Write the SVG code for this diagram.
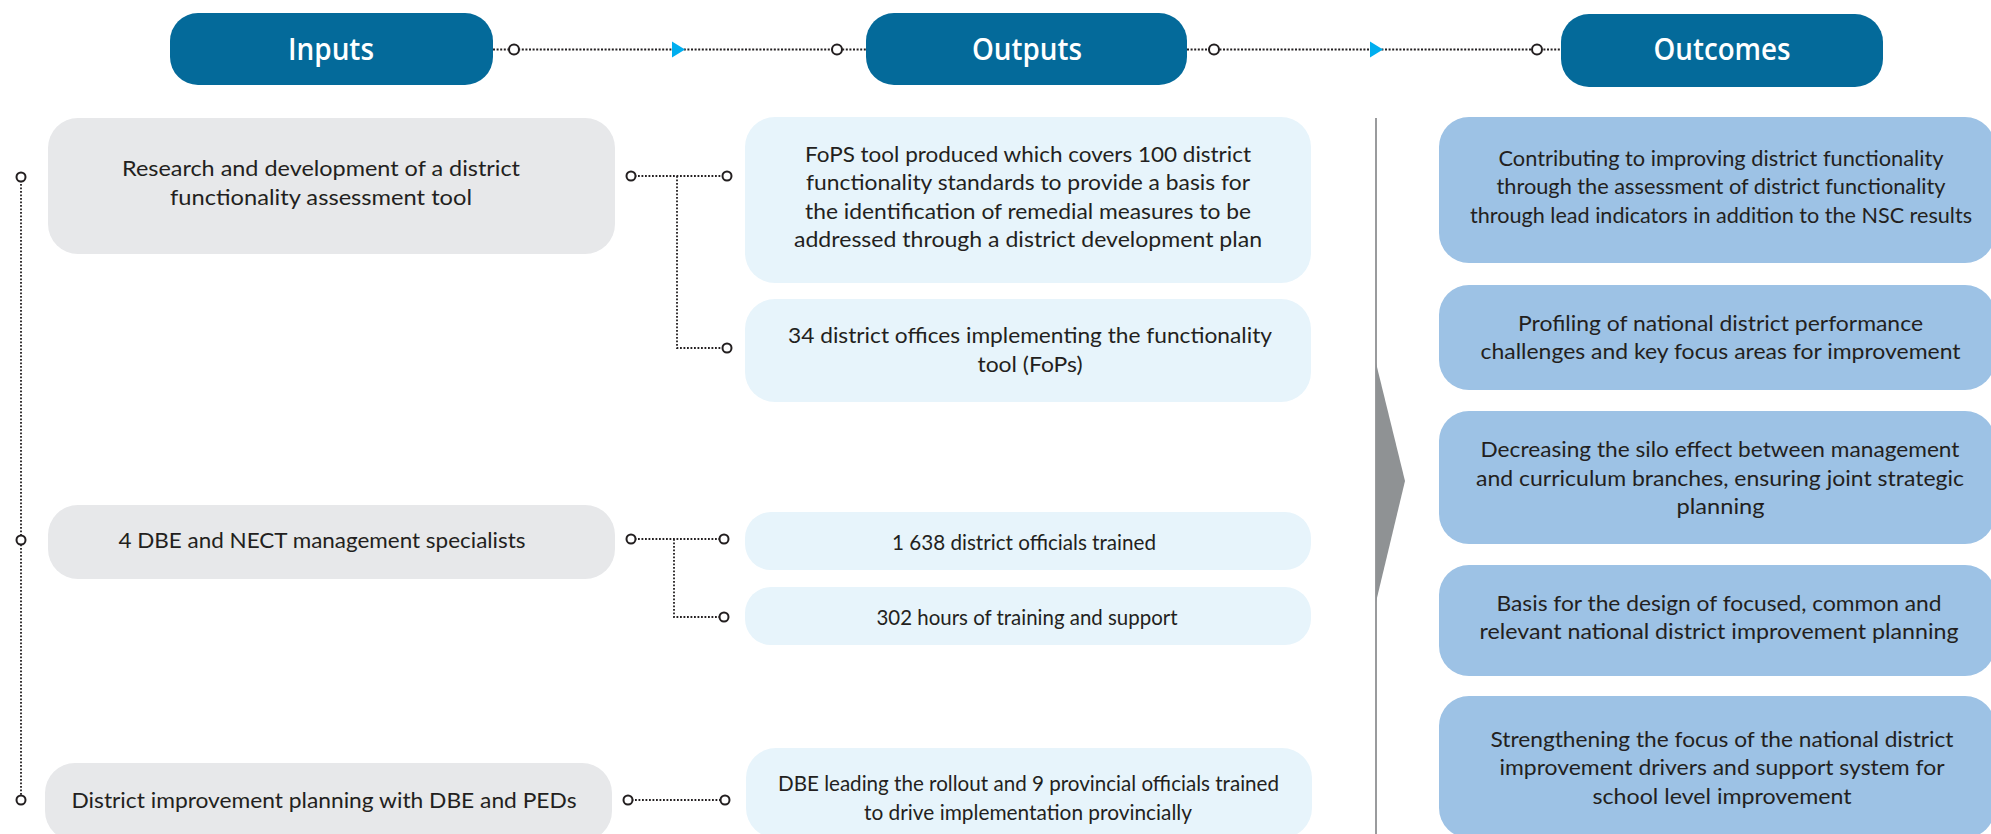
<svg xmlns="http://www.w3.org/2000/svg" width="1991" height="834" viewBox="0 0 1991 834">
  <style>
    .hdr { fill: #046A9A; }
    .in { fill: #E7E8EA; }
    .out { fill: #E7F4FB; }
    .oc { fill: #9DC2E5; }
    .ht { font-family: "Open Sans", "Noto Sans", sans-serif; font-weight: 600; font-size: 31px; fill: #FFFFFF; text-anchor: middle; }
    .t { font-family: Lato, "Noto Sans", sans-serif; font-size: 22px; fill: #231F20; text-anchor: middle; }
    .dot { fill: none; stroke: #231F20; stroke-width: 2; stroke-dasharray: 2 1.6; }
    .dot-s { fill: none; stroke: #231F20; stroke-width: 1.8; stroke-dasharray: 1.8 1.7; }
    .pin { fill: #FFFFFF; stroke: #231F20; stroke-width: 2; }
    .tri { fill: #00AEEF; }
  </style>
  <rect width="1991" height="834" fill="#FFFFFF"/>

  <!-- column headers -->
  <g id="hdr-inputs">
    <rect class="hdr" x="170" y="13" width="323" height="72" rx="28"/>
    <text class="ht" x="331" y="60" textLength="86" lengthAdjust="spacingAndGlyphs">Inputs</text>
  </g>
  <g id="hdr-outputs">
    <rect class="hdr" x="866" y="13" width="321" height="72" rx="28"/>
    <text class="ht" x="1027" y="60" textLength="110" lengthAdjust="spacingAndGlyphs">Outputs</text>
  </g>
  <g id="hdr-outcomes">
    <rect class="hdr" x="1561" y="14" width="322" height="73" rx="28"/>
    <text class="ht" x="1722" y="60" textLength="137" lengthAdjust="spacingAndGlyphs">Outcomes</text>
  </g>

  <!-- inputs -->
  <g id="in-research">
    <rect class="in" x="48" y="118" width="567" height="136" rx="30"/>
    <text class="t" x="321" y="176" textLength="398" lengthAdjust="spacingAndGlyphs">Research and development of a district</text>
    <text class="t" x="321" y="205" textLength="302" lengthAdjust="spacingAndGlyphs">functionality assessment tool</text>
  </g>
  <g id="in-specialists">
    <rect class="in" x="48" y="505" width="567" height="74" rx="30"/>
    <text class="t" x="322" y="548" textLength="407" lengthAdjust="spacingAndGlyphs">4 DBE and NECT management specialists</text>
  </g>
  <g id="in-planning">
    <rect class="in" x="45" y="763" width="567" height="78" rx="30"/>
    <text class="t" x="324" y="808" textLength="505" lengthAdjust="spacingAndGlyphs">District improvement planning with DBE and PEDs</text>
  </g>

  <!-- outputs -->
  <g id="out-fops">
    <rect class="out" x="745" y="117" width="566" height="166" rx="30"/>
    <text class="t" x="1028" y="162" textLength="446" lengthAdjust="spacingAndGlyphs">FoPS tool produced which covers 100 district</text>
    <text class="t" x="1028" y="190" textLength="444" lengthAdjust="spacingAndGlyphs">functionality standards to provide a basis for</text>
    <text class="t" x="1028" y="218.5" textLength="446" lengthAdjust="spacingAndGlyphs">the identification of remedial measures to be</text>
    <text class="t" x="1028" y="247" textLength="468" lengthAdjust="spacingAndGlyphs">addressed through a district development plan</text>
  </g>
  <g id="out-offices">
    <rect class="out" x="745" y="299" width="566" height="103" rx="30"/>
    <text class="t" x="1030" y="343" textLength="484" lengthAdjust="spacingAndGlyphs">34 district offices implementing the functionality</text>
    <text class="t" x="1030" y="372" textLength="105" lengthAdjust="spacingAndGlyphs">tool (FoPs)</text>
  </g>
  <g id="out-officials">
    <rect class="out" x="745" y="512" width="566" height="58" rx="26"/>
    <text class="t" x="1024" y="550" textLength="264" lengthAdjust="spacingAndGlyphs">1 638 district officials trained</text>
  </g>
  <g id="out-hours">
    <rect class="out" x="745" y="587" width="566" height="58" rx="26"/>
    <text class="t" x="1027" y="625" textLength="301" lengthAdjust="spacingAndGlyphs">302 hours of training and support</text>
  </g>
  <g id="out-rollout">
    <rect class="out" x="746" y="748" width="566" height="90" rx="30"/>
    <text class="t" x="1028.5" y="791" textLength="501" lengthAdjust="spacingAndGlyphs">DBE leading the rollout and 9 provincial officials trained</text>
    <text class="t" x="1028" y="820" textLength="328" lengthAdjust="spacingAndGlyphs">to drive implementation provincially</text>
  </g>

  <!-- divider between outputs and outcomes -->
  <g id="divider">
    <line x1="1376" y1="118" x2="1376" y2="834" stroke="#9A9B9D" stroke-width="2"/>
    <polygon points="1376,363 1405,481 1376,602" fill="#8F9294"/>
  </g>

  <!-- outcomes -->
  <g id="oc-functionality">
    <rect class="oc" x="1439" y="117" width="556" height="146" rx="30"/>
    <text class="t" x="1721" y="166" textLength="445" lengthAdjust="spacingAndGlyphs">Contributing to improving district functionality</text>
    <text class="t" x="1721" y="194" textLength="449" lengthAdjust="spacingAndGlyphs">through the assessment of district functionality</text>
    <text class="t" x="1721" y="222.5" textLength="502" lengthAdjust="spacingAndGlyphs">through lead indicators in addition to the NSC results</text>
  </g>
  <g id="oc-profiling">
    <rect class="oc" x="1439" y="285" width="556" height="105" rx="30"/>
    <text class="t" x="1720.5" y="331" textLength="405" lengthAdjust="spacingAndGlyphs">Profiling of national district performance</text>
    <text class="t" x="1720.5" y="358.5" textLength="480" lengthAdjust="spacingAndGlyphs">challenges and key focus areas for improvement</text>
  </g>
  <g id="oc-silo">
    <rect class="oc" x="1439" y="411" width="556" height="133" rx="30"/>
    <text class="t" x="1720" y="457" textLength="479" lengthAdjust="spacingAndGlyphs">Decreasing the silo effect between management</text>
    <text class="t" x="1720" y="486" textLength="488" lengthAdjust="spacingAndGlyphs">and curriculum branches, ensuring joint strategic</text>
    <text class="t" x="1720.5" y="513.5" textLength="88" lengthAdjust="spacingAndGlyphs">planning</text>
  </g>
  <g id="oc-basis">
    <rect class="oc" x="1439" y="565" width="556" height="111" rx="30"/>
    <text class="t" x="1719" y="611" textLength="445" lengthAdjust="spacingAndGlyphs">Basis for the design of focused, common and</text>
    <text class="t" x="1719" y="638.5" textLength="479" lengthAdjust="spacingAndGlyphs">relevant national district improvement planning</text>
  </g>
  <g id="oc-strengthening">
    <rect class="oc" x="1439" y="696" width="556" height="142" rx="30"/>
    <text class="t" x="1722" y="746.5" textLength="463" lengthAdjust="spacingAndGlyphs">Strengthening the focus of the national district</text>
    <text class="t" x="1722" y="775" textLength="445" lengthAdjust="spacingAndGlyphs">improvement drivers and support system for</text>
    <text class="t" x="1722" y="803.5" textLength="259" lengthAdjust="spacingAndGlyphs">school level improvement</text>
  </g>

  <!-- connectors -->
  <g id="connectors">
    <!-- header flow -->
    <path class="dot" d="M493 49.5 H866 M1187 49.5 H1561"/>
    <polygon class="tri" points="672,41.5 685,49.5 672,57.5"/>
    <polygon class="tri" points="1370,41.5 1383,49.5 1370,57.5"/>
    <!-- input spine -->
    <path class="dot-s" d="M21 177 V800"/>
    <!-- input to output links -->
    <path class="dot-s" d="M631 176 H727 M677 176 V348 H727"/>
    <path class="dot-s" d="M631 539 H724 M674 539 V617 H724"/>
    <path class="dot-s" d="M628 800 H725"/>
    <!-- pins -->
    <circle class="pin" cx="514" cy="49.5" r="5"/>
    <circle class="pin" cx="837" cy="49.5" r="5"/>
    <circle class="pin" cx="1214" cy="49.5" r="5"/>
    <circle class="pin" cx="1537" cy="49.5" r="5"/>
    <circle class="pin" cx="21" cy="177" r="4.5"/>
    <circle class="pin" cx="21" cy="540" r="4.5"/>
    <circle class="pin" cx="21" cy="800" r="4.5"/>
    <circle class="pin" cx="631" cy="176" r="4.5"/>
    <circle class="pin" cx="727" cy="176" r="4.5"/>
    <circle class="pin" cx="727" cy="348" r="4.5"/>
    <circle class="pin" cx="631" cy="539" r="4.5"/>
    <circle class="pin" cx="724" cy="539" r="4.5"/>
    <circle class="pin" cx="724" cy="617" r="4.5"/>
    <circle class="pin" cx="628" cy="800" r="4.5"/>
    <circle class="pin" cx="725" cy="800" r="4.5"/>
  </g>
</svg>
